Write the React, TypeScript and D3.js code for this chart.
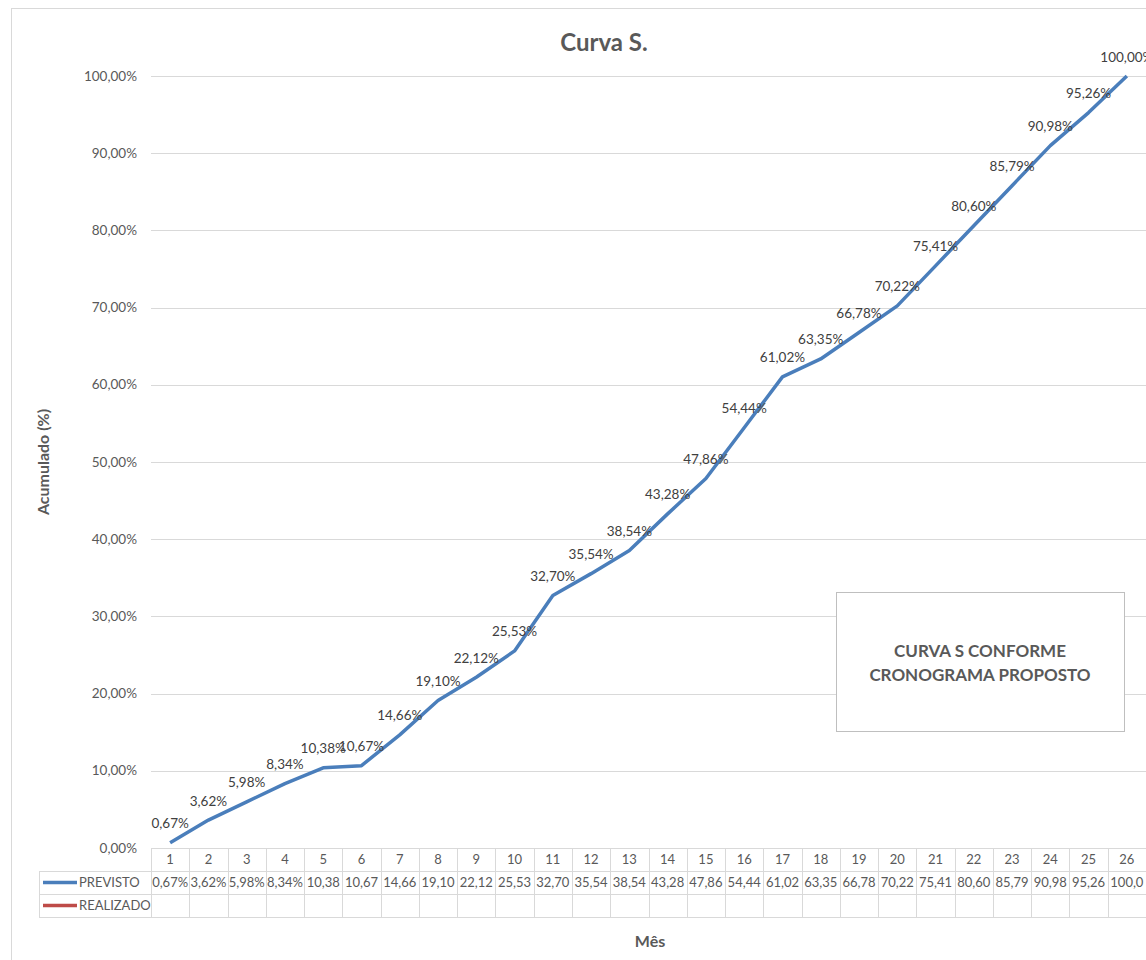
import React, { useEffect, useRef } from 'react';
import * as d3 from 'd3';

// Curva S - cumulative planned progress per month
const months: number[] = d3.range(1, 27);
const previsto: number[] = [
  0.67, 3.62, 5.98, 8.34, 10.38, 10.67, 14.66, 19.1, 22.12, 25.53, 32.7, 35.54, 38.54,
  43.28, 47.86, 54.44, 61.02, 63.35, 66.78, 70.22, 75.41, 80.6, 85.79, 90.98, 95.26, 100.0,
];
const yTicks: number[] = [0, 10, 20, 30, 40, 50, 60, 70, 80, 90, 100];
const seriesNames: string[] = ['PREVISTO', 'REALIZADO'];
const seriesColors: string[] = ['#4a7ebb', '#be4b48'];

const FONT = 'Lato, "Open Sans", sans-serif';
const TEXT = '#595959';
const GRID = '#d9d9d9';

const fmt = (v: number) => v.toFixed(2).replace('.', ',') + '%';
// Excel table cells cut the label when it does not fit
const cellText = (v: number) => fmt(v).slice(0, 5);

const App = () => {
  const svgRef = useRef<SVGSVGElement>(null);

  useEffect(() => {
    if (!svgRef.current) return;
    const width = 1146;
    const height = 960;
    const svg = d3.select(svgRef.current);
    svg.selectAll('*').remove();

    const left = 151;
    const right = 1146;
    const top = 76;
    const bottom = 848;
    const rowH = 23;

    const x = d3.scaleBand<number>().domain(months).range([left, right]);
    const y = d3.scaleLinear().domain([0, 100]).range([bottom, top]);

    // chart area border
    svg.append('rect')
      .attr('x', 11.5).attr('y', 8.5)
      .attr('width', width + 20).attr('height', height + 20)
      .attr('fill', 'white').attr('stroke', GRID);

    // title
    svg.append('text')
      .attr('x', 604).attr('y', 51)
      .attr('text-anchor', 'middle')
      .attr('font-family', FONT).attr('font-size', 24).attr('font-weight', 700)
      .attr('fill', TEXT)
      .text('Curva S.');

    // gridlines + y labels
    const g = svg.append('g');
    g.selectAll('line.grid')
      .data(yTicks.filter(t => t > 0))
      .enter().append('line')
      .attr('class', 'grid')
      .attr('x1', left).attr('x2', right)
      .attr('y1', d => Math.round(y(d)) + 0.5).attr('y2', d => Math.round(y(d)) + 0.5)
      .attr('stroke', GRID).attr('stroke-width', 1);

    g.selectAll('text.ytick')
      .data(yTicks)
      .enter().append('text')
      .attr('class', 'ytick')
      .attr('x', 137).attr('y', d => y(d) + 4.5)
      .attr('text-anchor', 'end')
      .attr('font-family', FONT).attr('font-size', 13.5)
      .attr('fill', TEXT)
      .text(d => fmt(d));

    // axis titles
    svg.append('text')
      .attr('transform', `translate(49, ${(top + bottom) / 2}) rotate(-90)`)
      .attr('text-anchor', 'middle')
      .attr('font-family', FONT).attr('font-size', 16).attr('font-weight', 700)
      .attr('fill', TEXT)
      .text('Acumulado (%)');

    svg.append('text')
      .attr('x', 650).attr('y', 947)
      .attr('text-anchor', 'middle')
      .attr('font-family', FONT).attr('font-size', 16).attr('font-weight', 700)
      .attr('fill', TEXT)
      .text('Mês');

    // data table
    const t = svg.append('g');
    const hLines = [
      { y: bottom, x1: left },
      { y: bottom + rowH, x1: 39 },
      { y: bottom + rowH * 2, x1: 39 },
      { y: bottom + rowH * 3, x1: 39 },
    ];
    t.selectAll('line.h')
      .data(hLines)
      .enter().append('line')
      .attr('x1', d => d.x1).attr('x2', right)
      .attr('y1', d => d.y + 0.5).attr('y2', d => d.y + 0.5)
      .attr('stroke', GRID);

    const vx = months.map(m => x(m) as number).concat([right]);
    t.selectAll('line.v')
      .data(vx)
      .enter().append('line')
      .attr('x1', d => Math.round(d) + 0.5).attr('x2', d => Math.round(d) + 0.5)
      .attr('y1', bottom).attr('y2', bottom + rowH * 3)
      .attr('stroke', GRID);
    t.append('line')
      .attr('x1', 39.5).attr('x2', 39.5)
      .attr('y1', bottom + rowH).attr('y2', bottom + rowH * 3)
      .attr('stroke', GRID);

    t.selectAll('text.month')
      .data(months)
      .enter().append('text')
      .attr('x', d => (x(d) as number) + x.bandwidth() / 2)
      .attr('y', bottom + 16)
      .attr('text-anchor', 'middle')
      .attr('font-family', FONT).attr('font-size', 13)
      .attr('fill', TEXT)
      .text(d => d);

    t.selectAll('text.val')
      .data(previsto)
      .enter().append('text')
      .attr('x', (d, i) => (x(months[i]) as number) + x.bandwidth() / 2)
      .attr('y', bottom + rowH + 16)
      .attr('text-anchor', 'middle')
      .attr('font-family', FONT).attr('font-size', 13)
      .attr('fill', TEXT)
      .text(d => cellText(d));

    // legend keys inside table
    seriesNames.forEach((name, i) => {
      const ry = bottom + rowH * (i + 1) + rowH / 2;
      t.append('line')
        .attr('x1', 43).attr('x2', 77)
        .attr('y1', ry).attr('y2', ry)
        .attr('stroke', seriesColors[i]).attr('stroke-width', 3.5);
      t.append('text')
        .attr('x', 79).attr('y', ry + 4.5)
        .attr('font-family', FONT).attr('font-size', 13)
        .attr('fill', TEXT)
        .text(name);
    });

    // line
    const line = d3.line<number>()
      .x((d, i) => (x(months[i]) as number) + x.bandwidth() / 2)
      .y(d => y(d));

    svg.append('path')
      .datum(previsto)
      .attr('d', line)
      .attr('fill', 'none')
      .attr('stroke', seriesColors[0])
      .attr('stroke-width', 3.5)
      .attr('stroke-linejoin', 'round');

    svg.append('g').selectAll('text')
      .data(previsto)
      .enter().append('text')
      .attr('x', (d, i) => (x(months[i]) as number) + x.bandwidth() / 2)
      .attr('y', d => y(d) - 14.5)
      .attr('text-anchor', 'middle')
      .attr('font-family', FONT).attr('font-size', 13.5)
      .attr('fill', '#404040')
      .text(d => fmt(d));

    // text box
    svg.append('rect')
      .attr('x', 836.5).attr('y', 592.5)
      .attr('width', 288).attr('height', 139)
      .attr('fill', 'white').attr('stroke', '#bfbfbf');
    ['CURVA S CONFORME', 'CRONOGRAMA PROPOSTO'].forEach((s, i) => {
      svg.append('text')
        .attr('x', 980).attr('y', 657 + i * 24)
        .attr('text-anchor', 'middle')
        .attr('font-family', FONT).attr('font-size', 17).attr('font-weight', 700)
        .attr('fill', TEXT)
        .text(s);
    });
  }, []);

  return (
    <svg
      ref={svgRef}
      width={1146}
      height={960}
      style={{ position: 'absolute', left: 0, top: 0, background: 'white' }}
    />
  );
};

export default App;
